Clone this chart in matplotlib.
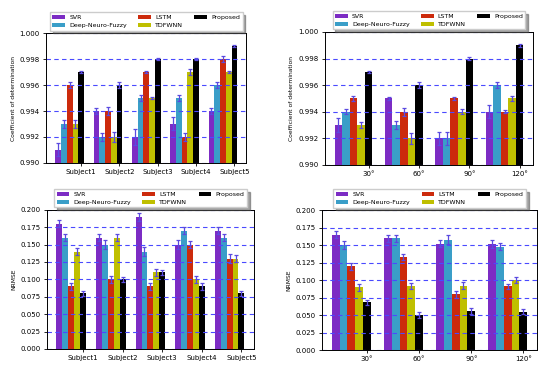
import numpy as np
import matplotlib
matplotlib.use('Agg')
import matplotlib.pyplot as plt
from matplotlib.ticker import FormatStrFormatter

# models / legend
models = ['SVR', 'Deep-Neuro-Fuzzy', 'LSTM', 'TDFWNN', 'Proposed']
colors = ['#7c2cc4', '#3a9ec8', '#cc2a0c', '#bfbf00', 'black']

subjects = ['Subject1', 'Subject2', 'Subject3', 'Subject4', 'Subject5']
angles = ['30°', '60°', '90°', '120°']

# R2 per subject
r2_subj = [
    [0.991, 0.994, 0.992, 0.993, 0.994],   # SVR
    [0.993, 0.992, 0.995, 0.995, 0.996],   # Deep-Neuro-Fuzzy
    [0.996, 0.994, 0.997, 0.992, 0.998],   # LSTM
    [0.993, 0.992, 0.995, 0.997, 0.997],   # TDFWNN
    [0.997, 0.996, 0.998, 0.998, 0.999],   # Proposed
]
r2_subj_err = [
    [0.0005, 0.0002, 0.0006, 0.0005, 0.0002],
    [0.0003, 0.0003, 0.0002, 0.0002, 0.0002],
    [0.0002, 0.0003, 0.0001, 0.0003, 0.0002],
    [0.0003, 0.0004, 0.0001, 0.0002, 0.0001],
    [0.0001, 0.0002, 0.0001, 0.0001, 0.0001],
]

# R2 per angle
r2_ang = [
    [0.993, 0.995, 0.992, 0.994],
    [0.994, 0.993, 0.992, 0.996],
    [0.995, 0.994, 0.995, 0.994],
    [0.993, 0.992, 0.994, 0.995],
    [0.997, 0.996, 0.998, 0.999],
]
r2_ang_err = [
    [0.0005, 0.0001, 0.0005, 0.0005],
    [0.0002, 0.0003, 0.0005, 0.0002],
    [0.0002, 0.0003, 0.0001, 0.0001],
    [0.0002, 0.0004, 0.0002, 0.0002],
    [0.0001, 0.0002, 0.0001, 0.0001],
]

# NRMSE per subject
nrmse_subj = [
    [0.180, 0.160, 0.190, 0.150, 0.170],
    [0.160, 0.150, 0.140, 0.170, 0.160],
    [0.090, 0.100, 0.090, 0.150, 0.130],
    [0.140, 0.160, 0.110, 0.100, 0.130],
    [0.080, 0.100, 0.110, 0.090, 0.080],
]
nrmse_subj_err = [
    [0.005, 0.005, 0.006, 0.006, 0.005],
    [0.005, 0.006, 0.006, 0.005, 0.005],
    [0.005, 0.005, 0.005, 0.005, 0.006],
    [0.005, 0.005, 0.005, 0.005, 0.005],
    [0.004, 0.004, 0.004, 0.005, 0.004],
]

# NRMSE per angle
nrmse_ang = [
    [0.165, 0.160, 0.152, 0.152],
    [0.150, 0.160, 0.158, 0.148],
    [0.120, 0.133, 0.080, 0.091],
    [0.090, 0.092, 0.092, 0.100],
    [0.068, 0.050, 0.056, 0.055],
]
nrmse_ang_err = [
    [0.005, 0.005, 0.005, 0.006],
    [0.006, 0.005, 0.006, 0.005],
    [0.005, 0.004, 0.005, 0.004],
    [0.005, 0.004, 0.005, 0.004],
    [0.004, 0.004, 0.004, 0.004],
]

w = 0.15
fs = 5


def panel(ax, vals, errs, labels, ylabel, ylim, yticks):
    r = np.arange(len(labels))
    for k in range(len(models)):
        ax.bar(r + k*w, vals[k], w, yerr=errs[k], color=colors[k], label=models[k],
               error_kw=dict(ecolor='#5a4ae0', capsize=1.6, elinewidth=0.9, capthick=0.9))
    ax.set_ylim(ylim)
    ax.set_yticks(yticks)
    ax.yaxis.set_major_formatter(FormatStrFormatter('%.3f'))
    ax.set_xticks(r + 4*w)
    ax.set_xticklabels(labels)
    ax.tick_params(labelsize=fs, length=2.5, width=0.6, pad=2)
    ax.set_ylabel(ylabel, fontsize=4.3, labelpad=3)
    ax.grid(axis='y', color='#4a4aff', linestyle='--', linewidth=0.8, dashes=(4, 3))
    for s in ax.spines.values():
        s.set_linewidth(0.7)
    ax.legend(ncol=3, fontsize=4.5, loc='lower center', bbox_to_anchor=(0.5, 1.0),
              shadow=True, fancybox=False, handlelength=2.0, handleheight=0.6,
              borderpad=0.4, labelspacing=0.45, columnspacing=1.8, borderaxespad=0.4,
              handletextpad=0.7)


fig = plt.figure(figsize=(5.5, 3.72), dpi=100)

ax1 = fig.add_axes([0.084, 0.562, 0.364, 0.349])
panel(ax1, r2_subj, r2_subj_err, subjects, 'Coefficient of determination',
      (0.990, 1.000), np.arange(0.990, 1.0001, 0.002))

ax2 = fig.add_axes([0.591, 0.557, 0.378, 0.357])
panel(ax2, r2_ang, r2_ang_err, angles, 'Coefficient of determination',
      (0.990, 1.000), np.arange(0.990, 1.0001, 0.002))

ax3 = fig.add_axes([0.0855, 0.062, 0.376, 0.374])
panel(ax3, nrmse_subj, nrmse_subj_err, subjects, 'NRMSE',
      (0.0, 0.2), np.arange(0.0, 0.2001, 0.025))

ax4 = fig.add_axes([0.5855, 0.059, 0.391, 0.376])
panel(ax4, nrmse_ang, nrmse_ang_err, angles, 'NRMSE',
      (0.0, 0.2), np.arange(0.0, 0.2001, 0.025))

plt.savefig('out.png', dpi=100)
